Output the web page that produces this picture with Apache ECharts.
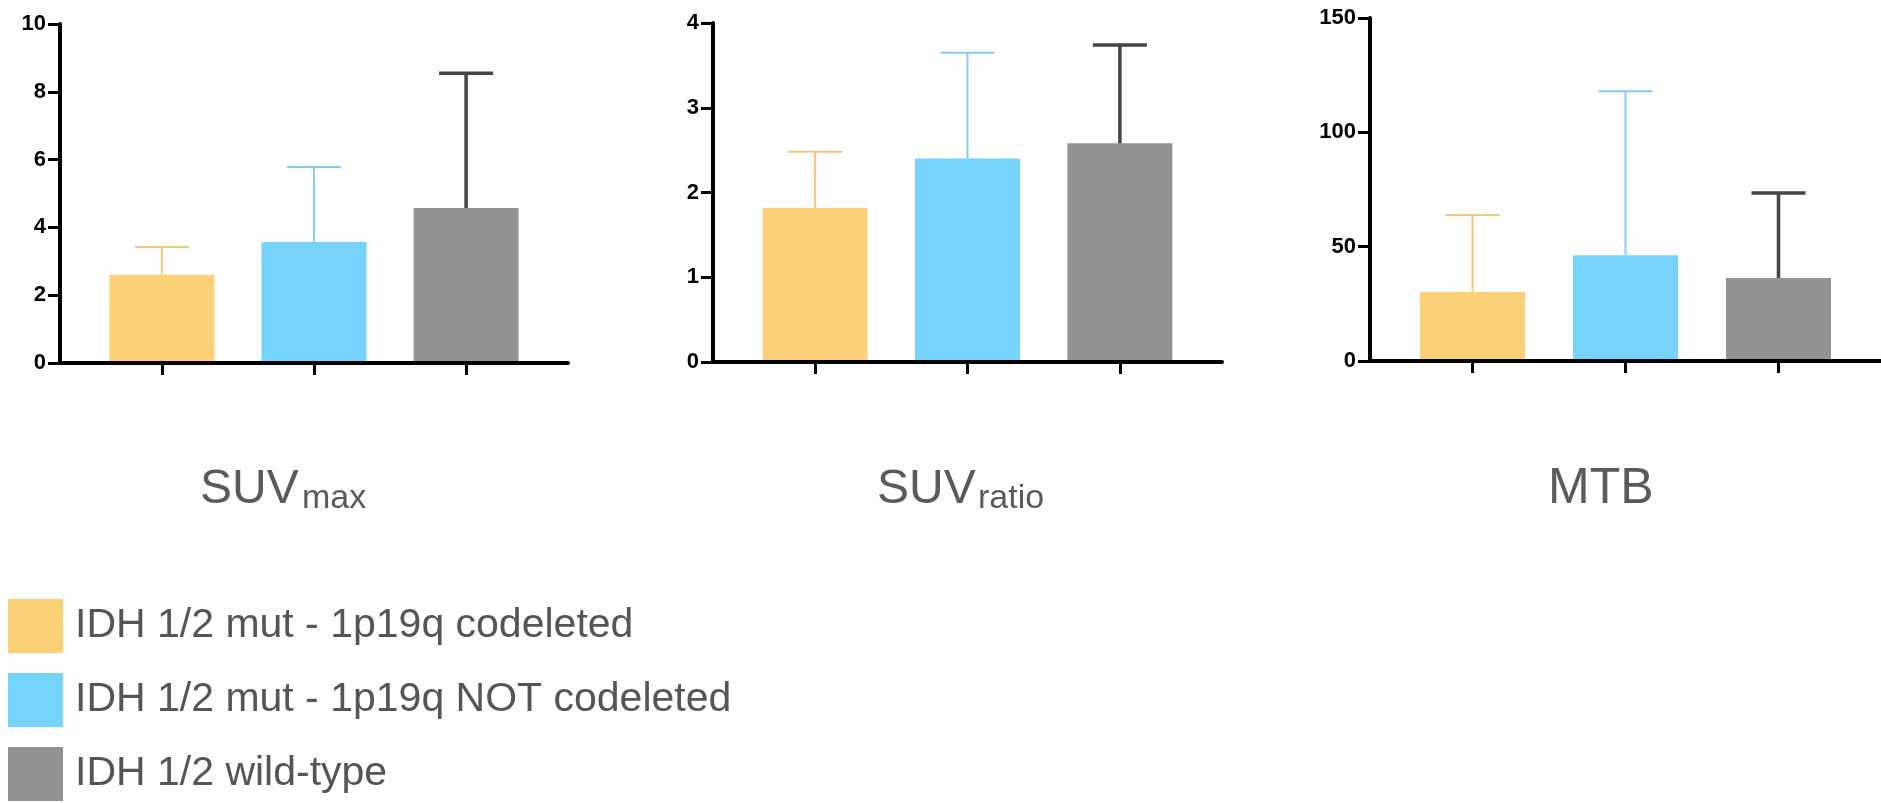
<!DOCTYPE html>
<html>
<head>
<meta charset="utf-8">
<script src="https://cdn.jsdelivr.net/npm/echarts@6/dist/echarts.min.js"></script>
<style>
html,body{margin:0;padding:0;background:#fff;}
#chart{width:1881px;height:803px;}
</style>
</head>
<body>
<div id="chart"></div>
<script>
// ---- data ----
const groups = ['IDH 1/2 mut - 1p19q codeleted', 'IDH 1/2 mut - 1p19q NOT codeleted', 'IDH 1/2 wild-type'];
const suvMaxMean = [2.60, 3.57, 4.57];
const suvMaxSD = [0.82, 2.21, 3.98];
const suvRatioMean = [1.82, 2.40, 2.58];
const suvRatioSD = [0.66, 1.25, 1.16];
const mtbMean = [30.2, 46.3, 36.3];
const mtbSD = [33.6, 71.7, 37.2];
const suvMaxTicks = [0, 2, 4, 6, 8, 10];
const suvRatioTicks = [0, 1, 2, 3, 4];
const mtbTicks = [0, 50, 100, 150];

// ---- styling ----
const barColors = ['#FBD077', '#76D3FC', '#939393'];
const errColors = ['#F6C57C', '#86CBEE', '#444444'];
const errWidths = [2, 2, 3.5];
const FONT = 'Liberation Sans, Arial, Helvetica, sans-serif';

const panels = [
  {mean: suvMaxMean, sd: suvMaxSD, ticks: suvMaxTicks, grid: {left: 60, top: 24, width: 508, height: 339}},
  {mean: suvRatioMean, sd: suvRatioSD, ticks: suvRatioTicks, grid: {left: 713, top: 23, width: 509, height: 339}},
  {mean: mtbMean, sd: mtbSD, ticks: mtbTicks, grid: {left: 1370, top: 18, width: 511, height: 343}}
];

const grid = [], xAxis = [], yAxis = [], series = [];
panels.forEach((p, gi) => {
  grid.push(Object.assign({containLabel: false}, p.grid));
  xAxis.push({
    type: 'value', gridIndex: gi, min: -0.67, max: 2.67, z: 10,
    axisLine: {show: true, onZero: false, lineStyle: {color: '#000', width: 4}},
    axisTick: {show: true, customValues: [0, 1, 2], length: 12, lineStyle: {color: '#000', width: 3}},
    axisLabel: {show: false},
    splitLine: {show: false}
  });
  const t = p.ticks;
  yAxis.push({
    type: 'value', gridIndex: gi, min: t[0], max: t[t.length - 1], interval: t[1] - t[0], z: 10,
    axisLine: {show: true, onZero: false, lineStyle: {color: '#000', width: 4}},
    axisTick: {show: true, length: 12, lineStyle: {color: '#000', width: 3}},
    axisLabel: {color: '#000', fontWeight: 'bold', fontSize: 22, fontFamily: FONT, margin: 14},
    splitLine: {show: false}
  });
  groups.forEach((g, i) => {
    series.push({
      type: 'bar', name: g, xAxisIndex: gi, yAxisIndex: gi,
      barWidth: 105, barGap: '-100%',
      itemStyle: {color: barColors[i]},
      data: [[i, p.mean[i]]]
    });
  });
  series.push({
    type: 'custom', name: 'err' + gi, xAxisIndex: gi, yAxisIndex: gi, z: 5,
    data: p.mean.map((m, i) => [i, m, m + p.sd[i]]),
    renderItem: function (params, api) {
      const x = api.value(0), m = api.value(1), top = api.value(2);
      const i = params.dataIndex;
      const p0 = api.coord([x, m]);
      const p1 = api.coord([x, top]);
      const half = 27;
      const st = {stroke: errColors[i], lineWidth: errWidths[i]};
      return {type: 'group', children: [
        {type: 'line', shape: {x1: p0[0], y1: p0[1], x2: p1[0], y2: p1[1]}, style: st},
        {type: 'line', shape: {x1: p1[0] - half, y1: p1[1], x2: p1[0] + half, y2: p1[1]}, style: st}
      ]};
    }
  });
});

const titleColor = '#5a5a5a';
const graphic = [
  {type: 'text', left: 200, top: 466, style: {text: 'SUV', font: '48px ' + FONT, fill: titleColor}},
  {type: 'text', left: 302, top: 482, style: {text: 'max', font: '34px ' + FONT, fill: titleColor}},
  {type: 'text', left: 877, top: 466, style: {text: 'SUV', font: '48px ' + FONT, fill: titleColor}},
  {type: 'text', left: 978, top: 482, style: {text: 'ratio', font: '34px ' + FONT, fill: titleColor}},
  {type: 'text', left: 1548, top: 464, style: {text: 'MTB', font: '50px ' + FONT, fill: titleColor}}
];

const chart = echarts.init(document.getElementById('chart'), null, {renderer: 'canvas'});
chart.setOption({
  animation: false,
  backgroundColor: '#fff',
  grid, xAxis, yAxis, series, graphic,
  legend: {
    data: groups, orient: 'vertical', left: 8, top: 599, padding: 0, height: 240,
    itemWidth: 55, itemHeight: 54, itemGap: 20, icon: 'rect',
    textStyle: {fontSize: 41, color: '#555', fontFamily: FONT, padding: [0, 0, 0, 7]}
  }
});
</script>
</body>
</html>
